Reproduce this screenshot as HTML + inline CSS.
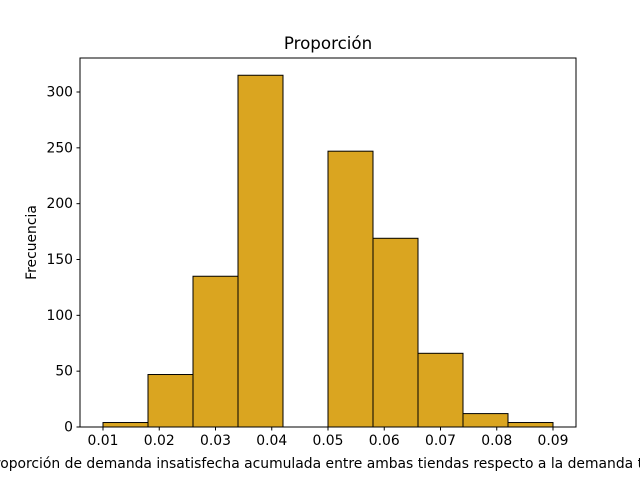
<!DOCTYPE html>
<html><head><meta charset="utf-8"><style>
body{margin:0;background:#fff;overflow:hidden;width:640px;height:480px}
svg{font-family:"DejaVu Sans","Liberation Sans",sans-serif}
</style></head><body>
<svg id="chart" width="640" height="480"></svg>
<script>
const binEdges=[0.01,0.018,0.026,0.034,0.042,0.05,0.058,0.066,0.074,0.082,0.09];
const counts=[4,47,135,315,0,247,169,66,12,4];
const xTicks=[0.01,0.02,0.03,0.04,0.05,0.06,0.07,0.08,0.09];
const yTicks=[0,50,100,150,200,250,300];
const NS="http://www.w3.org/2000/svg";
const svg=document.getElementById('chart');
const L=80,R=576,T=58,B=427;
const xmin=0.005911,xmax=0.094089,ymin=0,ymax=330.45;
const xs=v=>L+(v-xmin)/(xmax-xmin)*(R-L);
const ys=v=>B-(v-ymin)/(ymax-ymin)*(B-T);
function mk(tag,attrs,parent){const e=document.createElementNS(NS,tag);for(const k in attrs)e.setAttribute(k,attrs[k]);(parent||svg).appendChild(e);return e;}
const bars=mk('g',{});


counts.forEach((c,i)=>{
  const x0=xs(binEdges[i]),x1=xs(binEdges[i+1]);
  const r=mk('rect',{x:x0,y:ys(c),width:x1-x0,height:ys(0)-ys(c),fill:'#daa520',stroke:'#000','stroke-width':1},bars);
  
  
});
const frame=mk('rect',{x:L,y:T,width:R-L,height:B-T,fill:'none',stroke:'#000','stroke-width':1});


xTicks.forEach(t=>{
  const x=xs(t);
  mk('line',{x1:x,x2:x,y1:B,y2:B+3.5,stroke:'#000'});
  const tx=mk('text',{x:x,y:B+18,'text-anchor':'middle','font-size':'13.9px'});
  tx.textContent=t.toFixed(2);
  
  
});
yTicks.forEach(t=>{
  const y=ys(t);
  mk('line',{x1:L-3.5,x2:L,y1:y,y2:y,stroke:'#000'});
  const tx=mk('text',{x:L-7,y:y+4.5,'text-anchor':'end','font-size':'13.9px'});
  tx.textContent=t;
  
  
});
const title=mk('text',{x:(L+R)/2,y:49,'text-anchor':'middle','font-size':'16.7px'});
title.textContent='Proporción';


const xl=mk('text',{x:(L+R)/2,y:468,'text-anchor':'middle','font-size':'13.9px'});
xl.textContent='Proporción de demanda insatisfecha acumulada entre ambas tiendas respecto a la demanda total';


const yl=mk('text',{x:36,y:(T+B)/2,'text-anchor':'middle','font-size':'13.9px',transform:'rotate(-90 36 '+((T+B)/2)+')'});
yl.textContent='Frecuencia';


</script>
</body></html>
